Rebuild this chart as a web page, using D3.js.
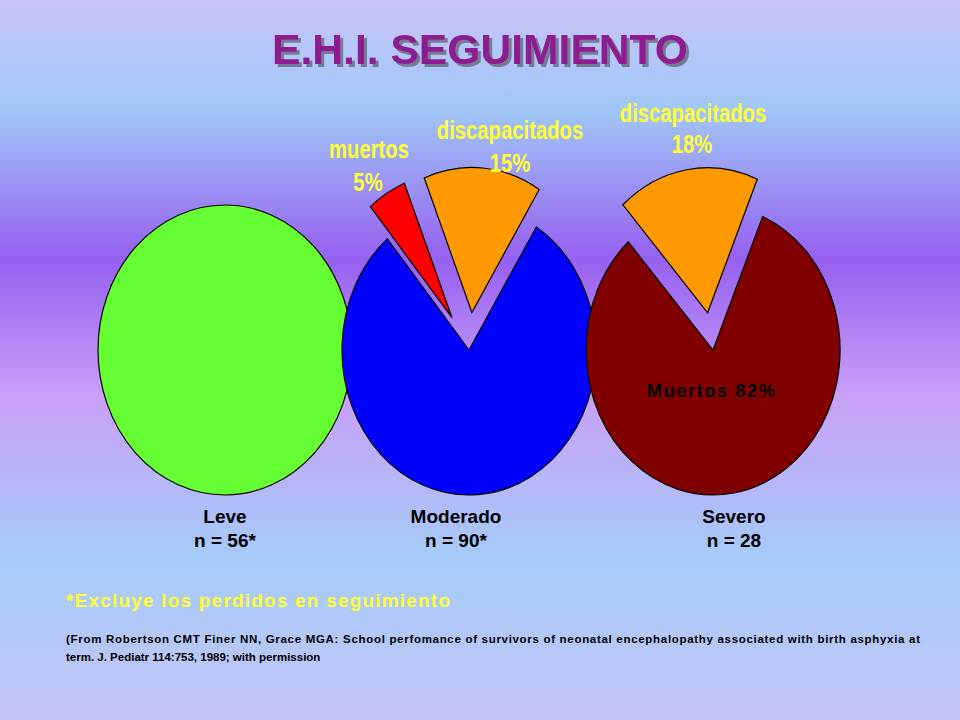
<!DOCTYPE html><html><head><meta charset="utf-8">
<script src="https://cdn.jsdelivr.net/npm/d3@7"></script>
<style>body{margin:0}</style></head><body><script>
const groups=["Leve","Moderado","Severo"];
const groupN=["n = 56*","n = 90*","n = 28"];
const moderadoValues=[80,5,15]; // vivos/otros, muertos, discapacitados
const severoValues=[82,18];     // muertos, discapacitados
const leveValues=[100];

const W=960,H=720;
const svg=d3.select("body").append("svg").attr("width",W).attr("height",H);
const defs=svg.append("defs");
const g=defs.append("linearGradient").attr("id","bg").attr("x1",0).attr("y1",0).attr("x2",0).attr("y2",1);
[[0,"#c8c4f8"],[0.15,"#a0c8f8"],[0.36,"#9660f0"],[0.55,"#c8a0f8"],[0.78,"#a4ccf8"],[1,"#c4c4f8"]].forEach(s=>g.append("stop").attr("offset",s[0]).attr("stop-color",s[1]));
const f=defs.append("filter").attr("id","sh").attr("x","-10%").attr("y","-30%").attr("width","120%").attr("height","160%");
f.append("feDropShadow").attr("dx",3).attr("dy",3).attr("stdDeviation",0.5).attr("flood-color","#404040").attr("flood-opacity",0.55);
svg.append("rect").attr("width",W).attr("height",H).attr("fill","url(#bg)");

svg.append("text").attr("x",272).attr("y",64).attr("textLength",416).attr("lengthAdjust","spacingAndGlyphs").attr("font-family","Liberation Sans, Arial").attr("font-weight","bold").attr("font-size",42).attr("fill","#8e1a90").attr("filter","url(#sh)").text("E.H.I. SEGUIMIENTO");

const rx=127,ry=145,cy=350;
const x=d3.scalePoint().domain(groups).range([225,713]);
const arc=d3.arc().innerRadius(0).outerRadius(1);
const deg=Math.PI/180;
function drawPie(name,values,colors,startDeg,explode){
  const pie=d3.pie().sort(null).startAngle(startDeg*deg).endAngle(startDeg*deg+2*Math.PI);
  const gg=svg.append("g").attr("transform",`translate(${x(name)},${cy}) scale(${rx},${ry})`);
  pie(values).forEach((d,i)=>{
    const m=(d.startAngle+d.endAngle)/2, r=explode[i];
    gg.append("path").attr("d",arc(d)).attr("fill",colors[i]).attr("stroke","#000").attr("stroke-width",1.2).attr("vector-effect","non-scaling-stroke")
      .attr("transform",`translate(${Math.sin(m)*r},${-Math.cos(m)*r})`);
  });
}
drawPie("Leve",leveValues,["#66ff33"],0,[0]);
drawPie("Moderado",moderadoValues,["#0000ff","#ff0000","#ff9900"],32,[0,0.26,0.26]);
drawPie("Severo",severoValues,["#800000","#ff9900"],23,[0,0.26]);

const yfont="Liberation Sans, Arial";
function ylab(t,xx,yy){svg.append("text").attr("transform",`translate(${xx},${yy}) scale(0.78,1)`).attr("text-anchor","middle").attr("font-family",yfont).attr("font-weight","bold").attr("font-size",26).attr("fill","#ffff33").text(t);}
ylab("muertos",369,158);ylab("5%",368,191);
ylab("discapacitados",510,139);ylab("15%",510,172);
ylab("discapacitados",693,122);ylab("18%",692,153);
svg.append("text").attr("x",711).attr("y",397).attr("text-anchor","middle").attr("font-family","Liberation Sans, Arial").attr("font-weight","bold").attr("font-size",18).attr("textLength",128).attr("fill","#000").text("Muertos 82%");

const lx=[225,456,734];
groups.forEach((n,i)=>{
  [n,groupN[i]].forEach((t,j)=>svg.append("text").attr("x",lx[i]).attr("y",523+j*24).attr("text-anchor","middle").attr("font-family","Liberation Sans, Arial").attr("font-weight","bold").attr("font-size",19).attr("fill","#000").text(t));
});
svg.append("text").attr("x",66).attr("y",607).attr("textLength",384).attr("font-family","Liberation Sans, Arial").attr("font-weight","bold").attr("font-size",19).attr("fill","#ffff33").text("*Excluye los perdidos en seguimiento");
svg.append("text").attr("x",66).attr("y",643).attr("font-family","Liberation Sans, Arial").attr("font-weight","bold").attr("font-size",11.5).attr("fill","#000").attr("textLength",854).attr("lengthAdjust","spacing").text("(From Robertson  CMT Finer NN, Grace MGA:  School perfomance  of survivors  of  neonatal encephalopathy  associated  with birth asphyxia  at");
svg.append("text").attr("x",66).attr("y",661).attr("font-family","Liberation Sans, Arial").attr("font-weight","bold").attr("font-size",11.5).attr("fill","#000").text("term.  J. Pediatr 114:753,  1989;  with permission");
</script></body></html>
